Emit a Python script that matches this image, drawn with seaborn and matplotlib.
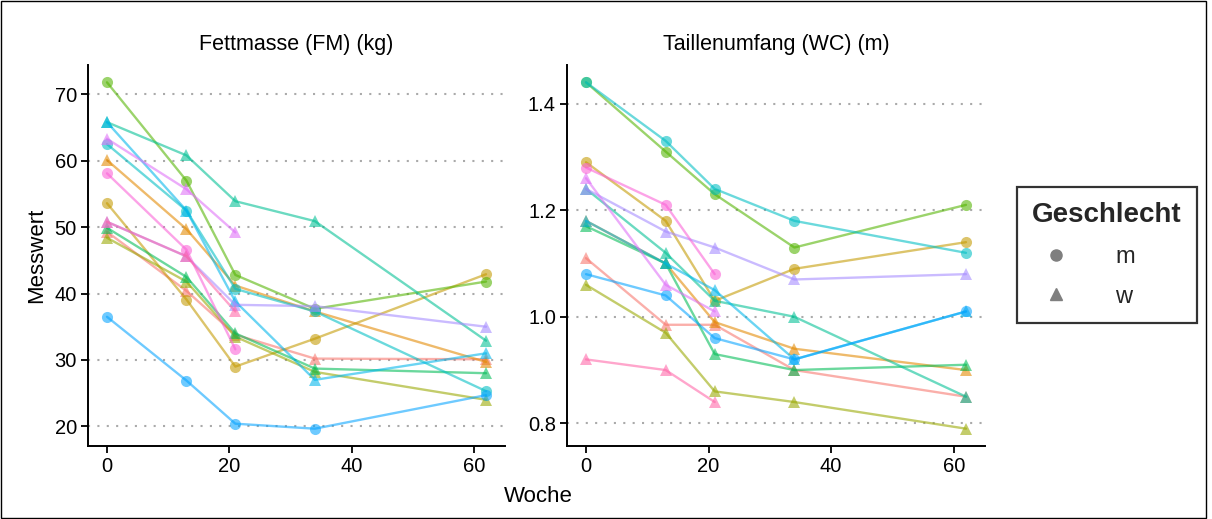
import numpy as np
import pandas as pd
import matplotlib
matplotlib.use("Agg")
import matplotlib.pyplot as plt
from matplotlib.lines import Line2D
from matplotlib.patches import Rectangle
import seaborn as sns

# ---------------- data ----------------
weeks = [0, 13, 21, 34, 62]
subjects = ["P01", "P02", "P03", "P04", "P05", "P06", "P07",
            "P08", "P09", "P10", "P11", "P12", "P13", "P14"]
sex = ["w", "w", "m", "w", "m", "w", "w", "m", "w", "m", "w", "w", "m", "w"]

# Fettmasse (FM) (kg), one list per subject over weeks
fm_p01 = [49.3, 40.4, 33.8, 30.2, 30.1]
fm_p02 = [60.1, 49.7, 41.2, 37.3, 29.7]
fm_p03 = [53.6, 39.1, 29.0, 33.2, 42.9]
fm_p04 = [48.4, 41.8, 33.5, 28.2, 24.0]
fm_p05 = [71.8, 57.0, 42.8, 37.7, 41.8]
fm_p06 = [49.9, 42.5, 34.0, 28.7, 28.0]
fm_p07 = [65.8, 60.8, 53.9, 50.9, 32.9]
fm_p08 = [62.5, 52.5, 40.7, 37.3, 25.3]
fm_p09 = [65.8, 52.5, 38.8, 27.0, 31.0]
fm_p10 = [36.5, 26.9, 20.4, 19.65, 24.7]
fm_p11 = [50.8, 45.6, 38.3, 38.1, 35.0]
fm_p12 = [63.3, 55.7, 49.2, None, None]
fm_p13 = [58.1, 46.6, 31.6, None, None]
fm_p14 = [50.8, 45.6, 37.3, None, None]

# Taillenumfang (WC) (m)
wc_p01 = [1.11, 0.985, 0.985, 0.90, 0.85]
wc_p02 = [1.18, 1.10, 0.99, 0.94, 0.90]
wc_p03 = [1.29, 1.18, 1.03, 1.09, 1.14]
wc_p04 = [1.06, 0.97, 0.86, 0.84, 0.79]
wc_p05 = [1.44, 1.31, 1.23, 1.13, 1.21]
wc_p06 = [1.17, 1.10, 0.93, 0.90, 0.91]
wc_p07 = [1.24, 1.12, 1.03, 1.00, 0.85]
wc_p08 = [1.44, 1.33, 1.24, 1.18, 1.12]
wc_p09 = [1.18, 1.10, 1.05, 0.92, 1.01]
wc_p10 = [1.08, 1.04, 0.96, 0.92, 1.01]
wc_p11 = [1.24, 1.16, 1.13, 1.07, 1.08]
wc_p12 = [1.26, 1.06, 1.01, None, None]
wc_p13 = [1.28, 1.21, 1.08, None, None]
wc_p14 = [0.92, 0.90, 0.84, None, None]

panel_titles = ["Fettmasse (FM) (kg)", "Taillenumfang (WC) (m)"]
fm_ticks = [20, 30, 40, 50, 60, 70]
wc_ticks = [0.8, 1.0, 1.2, 1.4]
x_ticks = [0, 20, 40, 60]

palette_hex = ["#F8766D", "#E38900", "#C49A00", "#99A800", "#53B400", "#00BC56",
               "#00C094", "#00BFC4", "#00B6EB", "#06A4FF", "#A58AFF", "#DF70F8",
               "#FB61D7", "#FF66A8"]

fm_all = [fm_p01, fm_p02, fm_p03, fm_p04, fm_p05, fm_p06, fm_p07,
          fm_p08, fm_p09, fm_p10, fm_p11, fm_p12, fm_p13, fm_p14]
wc_all = [wc_p01, wc_p02, wc_p03, wc_p04, wc_p05, wc_p06, wc_p07,
          wc_p08, wc_p09, wc_p10, wc_p11, wc_p12, wc_p13, wc_p14]

rows = []
for measure, values in ((panel_titles[0], fm_all), (panel_titles[1], wc_all)):
    for sid, sx, vals in zip(subjects, sex, values):
        for w, v in zip(weeks, vals):
            if v is not None:
                rows.append(dict(id=sid, sex=sx, week=w, measure=measure, value=v))
df = pd.DataFrame(rows)

# ---------------- plot ----------------
sns.set_theme(style="white")
plt.rcParams["font.family"] = ["Liberation Sans", "DejaVu Sans"]

fig = plt.figure(figsize=(12.12, 5.19), dpi=100)
ax1 = fig.add_axes([88 / 1212, 1 - 446 / 519, 417 / 1212, 381 / 519])
ax2 = fig.add_axes([567 / 1212, 1 - 446 / 519, 418 / 1212, 381 / 519])

pal = dict(zip(subjects, palette_hex))
for ax, title, ticks in ((ax1, panel_titles[0], fm_ticks), (ax2, panel_titles[1], wc_ticks)):
    sub = df[df["measure"] == title]
    sns.lineplot(data=sub, x="week", y="value", hue="id", style="sex",
                 markers={"m": "o", "w": "^"}, dashes=False, palette=pal,
                 hue_order=subjects, style_order=["m", "w"],
                 alpha=0.58, linewidth=1.7, markersize=8, markeredgewidth=0,
                 estimator=None, sort=True, legend=False, ax=ax)
    ax.set_yticks(ticks)
    if title == panel_titles[0]:
        ax.set_yticklabels([str(t) for t in ticks])
    else:
        ax.set_yticklabels([f"{t:.1f}" for t in ticks])
    ax.set_xticks(x_ticks)
    ax.set_xlim(-3.1, 65.1)
    ax.margins(y=0.05)
    ax.set_xlabel("")
    ax.set_ylabel("")
    for sp in ["top", "right"]:
        ax.spines[sp].set_visible(False)
    for sp in ["left", "bottom"]:
        ax.spines[sp].set_color("black")
        ax.spines[sp].set_linewidth(1.4)
    ax.tick_params(axis="both", which="both", direction="out", length=5, width=1.3,
                   color="black", labelsize=14.5, labelcolor="black", bottom=True, left=True, pad=3)
    ax.yaxis.grid(True, linestyle=(0, (1, 3.5)), color="#AAAAAA", linewidth=1.5)
    ax.xaxis.grid(False)
    ax.set_axisbelow(True)
    ax.set_title(title, fontsize=15.5, pad=11, color="black")

ax1.set_ylabel("Messwert", fontsize=16, color="black", labelpad=5)
fig.text(538 / 1212, 1 - 496 / 519, "Woche", ha="center", va="center", fontsize=16, color="black")

handles = [Line2D([], [], marker="o", color="#7F7F7F", linestyle="none", markersize=8),
           Line2D([], [], marker="^", color="#7F7F7F", linestyle="none", markersize=8)]
leg = fig.legend(handles, ["m", "w"], title="Geschlecht",
                 loc="center left", bbox_to_anchor=(1017 / 1212, 1 - 255 / 519),
                 frameon=True, fancybox=False, edgecolor="black", fontsize=17,
                 title_fontproperties={"weight": "bold", "size": 20},
                 handletextpad=1.5, labelspacing=0.75, borderpad=0.65, borderaxespad=0,
                 handlelength=2.0)
leg.get_frame().set_linewidth(1.6)
leg._legend_box.align = "left"

fig.patches.append(Rectangle((0.0005, 0.001), 0.9945, 0.998, transform=fig.transFigure,
                             fill=False, edgecolor="black", linewidth=1.0))

fig.savefig("out.png", dpi=100)
